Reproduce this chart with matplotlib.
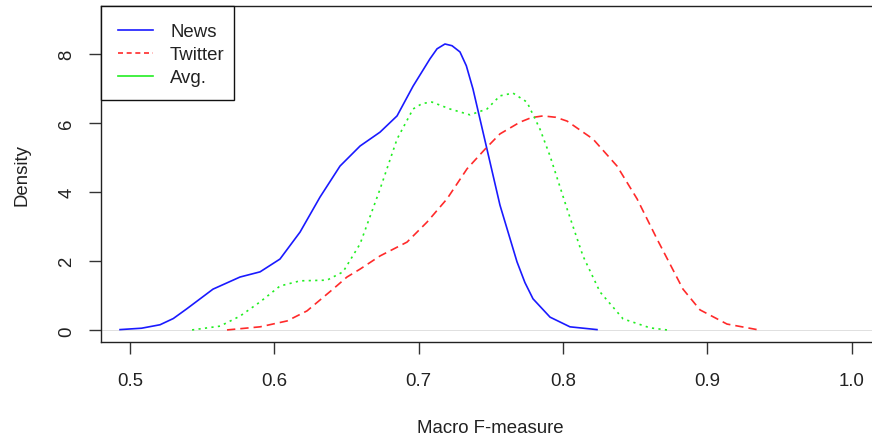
import matplotlib
matplotlib.use("Agg")
import matplotlib.pyplot as plt
from matplotlib.lines import Line2D
from matplotlib.patches import Rectangle

plt.rcParams["font.family"] = ["Liberation Sans", "DejaVu Sans"]

# density curves
news_x = [0.4931, 0.5080, 0.5208, 0.5300, 0.5393, 0.5575, 0.5762, 0.5901, 0.6039,
          0.6178, 0.6316, 0.6455, 0.6594, 0.6732, 0.6850, 0.6961, 0.7078, 0.7127,
          0.7182, 0.7231, 0.7286, 0.7330, 0.7376, 0.7473, 0.7563, 0.7681, 0.7736,
          0.7792, 0.7910, 0.8048, 0.8235]
news_y = [0.02, 0.06, 0.16, 0.34, 0.62, 1.19, 1.54, 1.69, 2.06,
          2.84, 3.85, 4.75, 5.33, 5.73, 6.20, 7.06, 7.85, 8.14,
          8.28, 8.23, 8.05, 7.65, 6.98, 5.24, 3.62, 1.98, 1.38,
          0.91, 0.38, 0.10, 0.02]

twitter_x = [0.5672, 0.5901, 0.6088, 0.6226, 0.6406, 0.6503, 0.6594, 0.6732, 0.6919,
             0.7058, 0.7196, 0.7335, 0.7460, 0.7563, 0.7702, 0.7780, 0.7861, 0.7950,
             0.8028, 0.8208, 0.8374, 0.8513, 0.8651, 0.8831, 0.8949, 0.9136, 0.9344]
twitter_y = [0.01, 0.10, 0.27, 0.56, 1.19, 1.54, 1.77, 2.15, 2.55,
             3.13, 3.80, 4.67, 5.24, 5.68, 6.02, 6.15, 6.20, 6.16,
             6.05, 5.53, 4.75, 3.80, 2.64, 1.19, 0.59, 0.18, 0.02]

avg_x = [0.5430, 0.5624, 0.5762, 0.5901, 0.6039, 0.6178, 0.6365, 0.6476, 0.6594,
         0.6732, 0.6850, 0.6961, 0.7025, 0.7092, 0.7217, 0.7356, 0.7473, 0.7563,
         0.7653, 0.7750, 0.7840, 0.7910, 0.8028, 0.8138, 0.8256, 0.8416, 0.8603,
         0.8720]
avg_y = [0.01, 0.12, 0.41, 0.82, 1.28, 1.43, 1.45, 1.69, 2.50,
         4.08, 5.53, 6.40, 6.56, 6.60, 6.40, 6.23, 6.40, 6.78,
         6.86, 6.60, 5.82, 5.04, 3.51, 2.15, 1.11, 0.33, 0.07,
         0.01]

labels = ["News", "Twitter", "Avg."]
colors = ["#1a1aff", "#ff2a2a", "#22ee22"]
xticks = [0.5, 0.6, 0.7, 0.8, 0.9, 1.0]
yticks = [0, 2, 4, 6, 8]

W, H = 872, 439
fig = plt.figure(figsize=(W / 100, H / 100), dpi=100)
ax = fig.add_axes([100.7 / W, 1 - 342.7 / H, (880.6 - 100.7) / W, (342.7 - 7.3) / H])

lw = 1.2
ax.axhline(0, color="#c8c8c8", lw=0.4, zorder=1)
ax.plot(news_x, news_y, color=colors[0], lw=lw, solid_joinstyle="round")
ax.plot(twitter_x, twitter_y, color=colors[1], lw=lw, dashes=(5, 3))
ax.plot(avg_x, avg_y, color=colors[2], lw=lw, dashes=(1.3, 2.6))

ax.set_xlim(0.4797, 1.02)
ax.set_ylim(-0.33, 9.37)
ax.set_xticks(xticks)
ax.set_xticklabels([f"{t:.1f}" for t in xticks])
ax.set_yticks(yticks)
ax.set_yticklabels([str(t) for t in yticks])

fs = 13.4
ax.tick_params(axis="both", direction="out", length=8.6, width=1.0,
               color="#333333", labelsize=fs, labelcolor="#222222")
ax.tick_params(axis="x", pad=13)
ax.tick_params(axis="y", pad=9.7)
plt.setp(ax.get_yticklabels(), rotation=90, va="center")

for s in ax.spines.values():
    s.set_linewidth(1.0)
    s.set_color("#222222")

ax.set_xlabel("Macro F-measure", fontsize=fs, color="#222222")
ax.set_ylabel("Density", fontsize=fs, color="#222222")
ax.xaxis.set_label_coords(0.5, -0.2299)
ax.yaxis.set_label_coords(-0.0900, 0.5)

# legend box drawn like R's legend("topleft")
box = Rectangle((100.7 / W, 1 - 100.7 / H), 133.3 / W, 93.4 / H,
                transform=fig.transFigure, facecolor="white",
                edgecolor="#111111", lw=1.0, zorder=5)
fig.add_artist(box)
rows = [31.0, 53.8, 77.0]
styles = [dict(), dict(dashes=(3, 2.2)), dict()]
for lab, c, r, st in zip(labels, colors, rows, styles):
    fig.add_artist(Line2D([117.7 / W, 153.3 / W], [1 - r / H, 1 - r / H],
                          transform=fig.transFigure, color=c, lw=lw, zorder=6, **st))
    fig.text(170 / W, 1 - (r + 6.4) / H, lab, fontsize=fs, color="#222222",
             va="baseline", ha="left", zorder=6)

fig.savefig("out.png", dpi=100)
